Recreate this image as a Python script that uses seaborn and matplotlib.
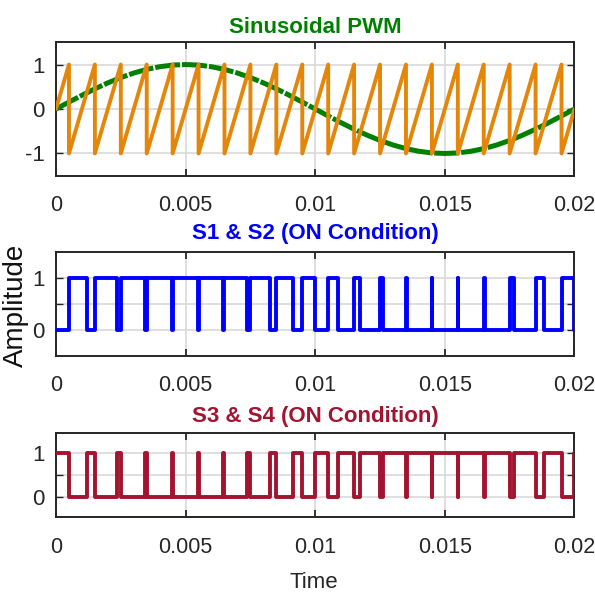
import numpy as np
import pandas as pd
import seaborn as sns
import matplotlib.pyplot as plt

# time axis ticks (s)
x_ticks = [0, 0.005, 0.01, 0.015, 0.02]
x_tick_labels = ["0", "0.005", "0.01", "0.015", "0.02"]

# modulating sine, read every 0.5 ms
sine_t = [i * 0.0005 for i in range(41)]
sine_v = [0.0, 0.156, 0.309, 0.454, 0.588, 0.707, 0.809, 0.891, 0.951, 0.988,
          1.0, 0.988, 0.951, 0.891, 0.809, 0.707, 0.588, 0.454, 0.309, 0.156,
          0.0, -0.156, -0.309, -0.454, -0.588, -0.707, -0.809, -0.891, -0.951, -0.988,
          -1.0, -0.988, -0.951, -0.891, -0.809, -0.707, -0.588, -0.454, -0.309, -0.156,
          0.0]

# sawtooth carrier: starts at 0, peaks at +1 then drops to -1 at these times
carrier_reset = [0.0005, 0.0015, 0.0025, 0.0035, 0.0045, 0.0055, 0.0065, 0.0075,
                 0.0085, 0.0095, 0.0105, 0.0115, 0.0125, 0.0135, 0.0145, 0.0155,
                 0.0165, 0.0175, 0.0185, 0.0195]
carrier_start = 0.0
carrier_end = 0.0

# S1 & S2 switching edges (s)
s12_on = carrier_reset
s12_off = [0.001181, 0.002335, 0.003441, 0.004494, 0.005494, 0.006449, 0.007368,
           0.008260, 0.009134, 0.010000, 0.010866, 0.011740, 0.012632, 0.013551,
           0.014506, 0.015506, 0.016559, 0.017665, 0.018819, 0.020000]

t_end = 0.02

# build carrier vertices
car_t = [0.0]
car_v = [carrier_start]
for r in carrier_reset:
    car_t += [r, r]
    car_v += [1, -1]
car_t.append(t_end)
car_v.append(carrier_end)
carrier = pd.DataFrame({"t": car_t, "v": car_v})
sine = pd.DataFrame({"t": sine_t, "v": sine_v})

# build S1&S2 step vertices, S3&S4 is the complement
st = [0.0]
sv = [0]
for on, off in zip(s12_on, s12_off):
    st += [on, on, off, off]
    sv += [0, 1, 1, 0]
s12 = pd.DataFrame({"t": st, "v": sv})
s34 = pd.DataFrame({"t": st, "v": [1 - v for v in sv]})

sns.set_style("white")
plt.rcParams['font.family'] = ['Liberation Sans', 'DejaVu Sans']

fig = plt.figure(figsize=(5.95, 5.96), dpi=100)
ax1 = fig.add_axes([0.0941, 0.7052, 0.8714, 0.2238])
ax2 = fig.add_axes([0.0941, 0.4032, 0.8714, 0.1745])
ax3 = fig.add_axes([0.0941, 0.1320, 0.8714, 0.1419])

green = "#008000"
orange = "#e4860a"
blue = "#0000ff"
crimson = "#a2142f"

sns.lineplot(data=sine, x="t", y="v", ax=ax1, color=green, linewidth=3.6,
             estimator=None, sort=False, linestyle=(0, (5, 0.4)), zorder=3)
sns.lineplot(data=carrier, x="t", y="v", ax=ax1, color=orange, linewidth=2.8,
             estimator=None, sort=False, zorder=4)
sns.lineplot(data=s12, x="t", y="v", ax=ax2, color=blue, linewidth=2.8,
             estimator=None, sort=False, zorder=3)
sns.lineplot(data=s34, x="t", y="v", ax=ax3, color=crimson, linewidth=2.8,
             estimator=None, sort=False, zorder=3)

ax1.set_ylim(-1.5, 1.5)
ax1.set_yticks([-1, 0, 1])
ax1.set_yticklabels(["-1", "0", "1"])
ax2.set_ylim(-0.5, 1.5)
ax2.set_yticks([0, 0.5, 1])
ax2.set_yticklabels(["0", "", "1"])
ax3.set_ylim(-0.45, 1.45)
ax3.set_yticks([0, 0.5, 1])
ax3.set_yticklabels(["0", "", "1"])

titles = ["Sinusoidal PWM", "S1 & S2 (ON Condition)", "S3 & S4 (ON Condition)"]
tcolors = [green, blue, crimson]
tpads = [7, 9, 8]
for ax, ttl, tc, tp in zip([ax1, ax2, ax3], titles, tcolors, tpads):
    ax.set_xlim(0, t_end)
    ax.set_xticks(x_ticks)
    ax.set_xticklabels(x_tick_labels)
    ax.set_xlabel("")
    ax.set_ylabel("")
    ax.grid(True, color="#d9d9d9", linewidth=1.2, zorder=0)
    ax.set_axisbelow(True)
    for sp in ax.spines.values():
        sp.set_linewidth(1.4)
        sp.set_color("#262626")
    ax.tick_params(axis="x", direction="in", length=5, width=1.3, top=True,
                   bottom=True, pad=14, labelsize=15.5, colors="#262626")
    ax.tick_params(axis="y", direction="in", length=5, width=1.0, left=True,
                   right=True, pad=8, labelsize=16, colors="#262626")
    ax.set_title(ttl, color=tc, fontweight="bold", fontsize=16, pad=tp)

fig.text(0.027, 0.488, "Amplitude", rotation=90, ha="center", va="center",
         fontsize=20, color="#111111")
fig.text(0.528, 0.023, "Time", ha="center", va="center", fontsize=16, color="#262626")

fig.savefig("out.png", dpi=100)
